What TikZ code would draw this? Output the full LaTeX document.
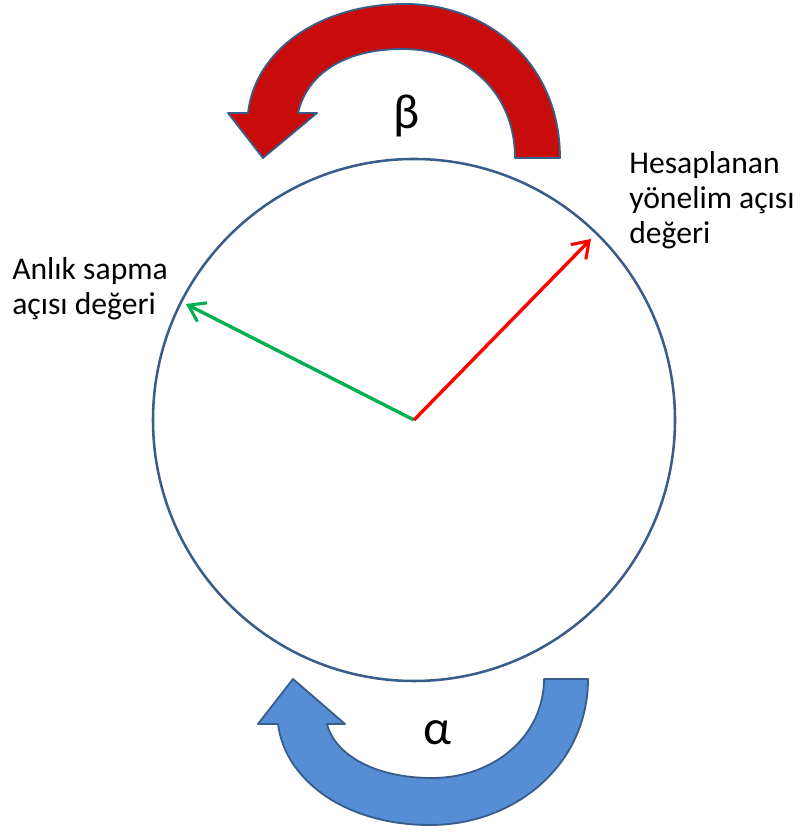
\documentclass[tikz,border=0pt]{standalone}
\usepackage{fontspec}
\setmainfont{Carlito}
\usetikzlibrary{arrows.meta}
\definecolor{rimblue}{RGB}{56,93,138}
\definecolor{betared}{RGB}{200,12,12}
\definecolor{alphablue}{RGB}{85,142,213}
\definecolor{vecgreen}{RGB}{0,176,80}
\tikzset{
  bent/.style={draw=rimblue, line width=1.3pt, line join=round},
  vec/.style={line width=2.4pt, -{Straight Barb[length=11pt,width=15pt,line width=2.2pt]}},
  lbl/.style={font=\fontsize{22.5}{25}\selectfont, align=left, inner sep=0pt}
}
\begin{document}
\begin{tikzpicture}[x=0.025cm, y=0.025cm]
  \useasboundingbox (0,0) rectangle (802,835);
  % rotation arrows
  \filldraw[bent, fill=betared] (515,677) -- (560,677)
    .. controls (560,770) and (490,831) .. (405,831)
    .. controls (320,831) and (255,785) .. (248,722)
    -- (228,722) -- (263,677) -- (317,722) -- (298,722)
    .. controls (308,765) and (350,786) .. (402,786)
    .. controls (470,786) and (515,740) .. (515,677) -- cycle;
  \filldraw[bent, fill=alphablue] (544,156) -- (588,156)
    .. controls (588,70) and (515,10) .. (430,10)
    .. controls (345,10) and (285,55) .. (278,111)
    -- (258,111) -- (293,156) -- (345,111) -- (327,111)
    .. controls (335,80) and (375,57) .. (432,57)
    .. controls (495,57) and (544,100) .. (544,156) -- cycle;
  \node[font=\fontsize{35}{35}\selectfont] (beta) at (407,719) {β};
  \node[font=\fontsize{35}{35}\selectfont] (alpha) at (437,102) {α};
  % circle and vectors
  \coordinate (O) at (414,415);
  \draw[rimblue, line width=1.8pt] (O) circle (261);
  \coordinate (sapma) at (186,531);
  \coordinate (yon) at (591,596);
  \draw[vec, vecgreen] (O) -- (sapma);
  \draw[vec, red] (O) -- (yon);
  \node[lbl, anchor=north west] (lsapma) at (12,578) {Anlık sapma\\açısı değeri};
  \node[lbl, anchor=north west] (lyon) at (629,684) {Hesaplanan\\yönelim açısı\\değeri};
\end{tikzpicture}
\end{document}
